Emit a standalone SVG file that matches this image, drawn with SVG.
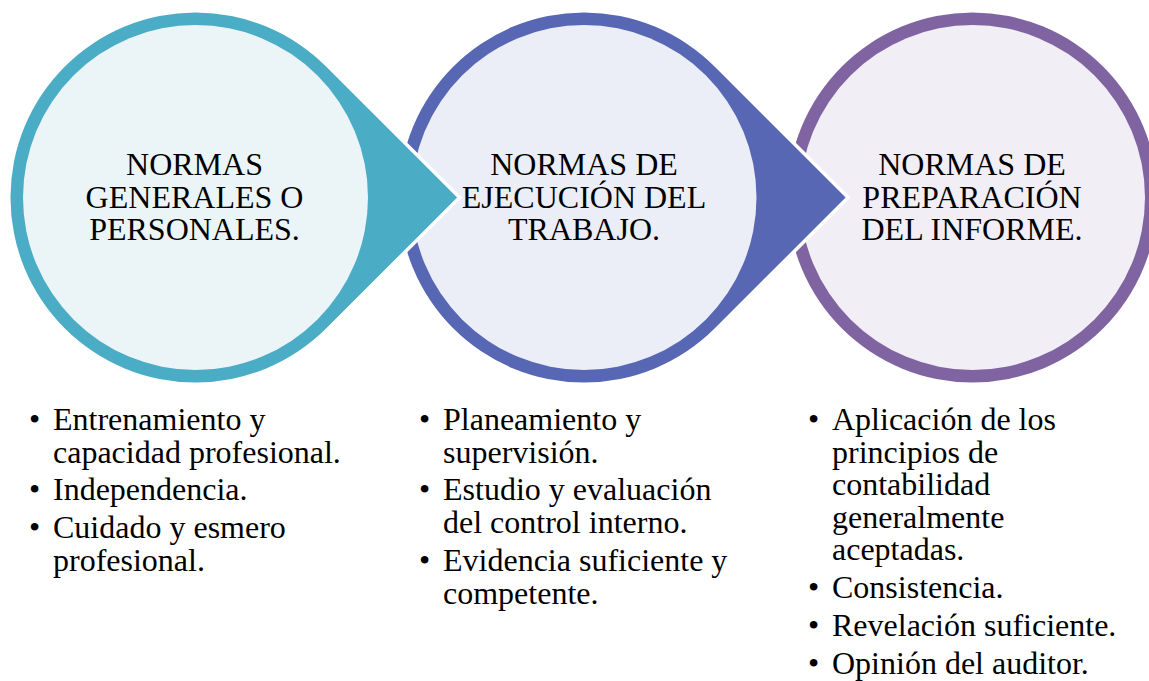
<svg xmlns="http://www.w3.org/2000/svg" width="1149" height="681" viewBox="0 0 1149 681">
<style>
  .drop { stroke: #ffffff; stroke-width: 7; paint-order: stroke; stroke-linejoin: miter; }
  .head { font-family: "Liberation Serif", "Times New Roman", serif; font-size: 32px; fill: #000; text-anchor: middle; }
  .item { font-family: "Liberation Serif", "Times New Roman", serif; font-size: 32px; fill: #000; }
</style>
<rect width="1149" height="681" fill="#ffffff"/>

<g id="node3">
  <circle class="drop" cx="972.5" cy="197.5" r="185" fill="#8064A2"/>
  <circle cx="972.5" cy="197.5" r="172.5" fill="#F1EEF5"/>
  <text class="head"><tspan x="972" y="175">NORMAS DE</tspan><tspan x="972" y="207.5">PREPARACIÓN</tspan><tspan x="972" y="240">DEL INFORME.</tspan></text>
</g>

<g id="node2">
  <path class="drop" fill="#5767B3" d="M 714.8 66.7 L 845.6 197.5 L 714.8 328.3 A 185 185 0 1 1 714.8 66.7 Z"/>
  <circle cx="584" cy="197.5" r="172.5" fill="#EBEEF7"/>
  <text class="head"><tspan x="584" y="175">NORMAS DE</tspan><tspan x="584" y="207.5">EJECUCIÓN DEL</tspan><tspan x="584" y="240">TRABAJO.</tspan></text>
</g>

<g id="node1">
  <path class="drop" fill="#4BACC6" d="M 326.3 66.7 L 457.1 197.5 L 326.3 328.3 A 185 185 0 1 1 326.3 66.7 Z"/>
  <circle cx="195.5" cy="197.5" r="172.5" fill="#EBF5F8"/>
  <text class="head"><tspan x="194.5" y="175">NORMAS</tspan><tspan x="194.5" y="207.5">GENERALES O</tspan><tspan x="194.5" y="240">PERSONALES.</tspan></text>
</g>

<g id="list1">
  <text class="item" x="29" y="430">•</text>
  <text class="item" x="53" y="430">Entrenamiento y</text>
  <text class="item" x="53" y="462.5">capacidad profesional.</text>
  <text class="item" x="29" y="500">•</text>
  <text class="item" x="53" y="500">Independencia.</text>
  <text class="item" x="29" y="538">•</text>
  <text class="item" x="53" y="538">Cuidado y esmero</text>
  <text class="item" x="53" y="570.5">profesional.</text>
</g>

<g id="list2">
  <text class="item" x="419" y="430">•</text>
  <text class="item" x="443" y="430">Planeamiento y</text>
  <text class="item" x="443" y="462.5">supervisión.</text>
  <text class="item" x="419" y="500">•</text>
  <text class="item" x="443" y="500">Estudio y evaluación</text>
  <text class="item" x="443" y="532.5">del control interno.</text>
  <text class="item" x="419" y="571">•</text>
  <text class="item" x="443" y="571">Evidencia suficiente y</text>
  <text class="item" x="443" y="603.5">competente.</text>
</g>

<g id="list3">
  <text class="item" x="808" y="430">•</text>
  <text class="item" x="832" y="430">Aplicación de los</text>
  <text class="item" x="832" y="462.5">principios de</text>
  <text class="item" x="832" y="495">contabilidad</text>
  <text class="item" x="832" y="527.5">generalmente</text>
  <text class="item" x="832" y="560">aceptadas.</text>
  <text class="item" x="808" y="598">•</text>
  <text class="item" x="832" y="598">Consistencia.</text>
  <text class="item" x="808" y="636">•</text>
  <text class="item" x="832" y="636">Revelación suficiente.</text>
  <text class="item" x="808" y="674">•</text>
  <text class="item" x="832" y="674">Opinión del auditor.</text>
</g>
</svg>
